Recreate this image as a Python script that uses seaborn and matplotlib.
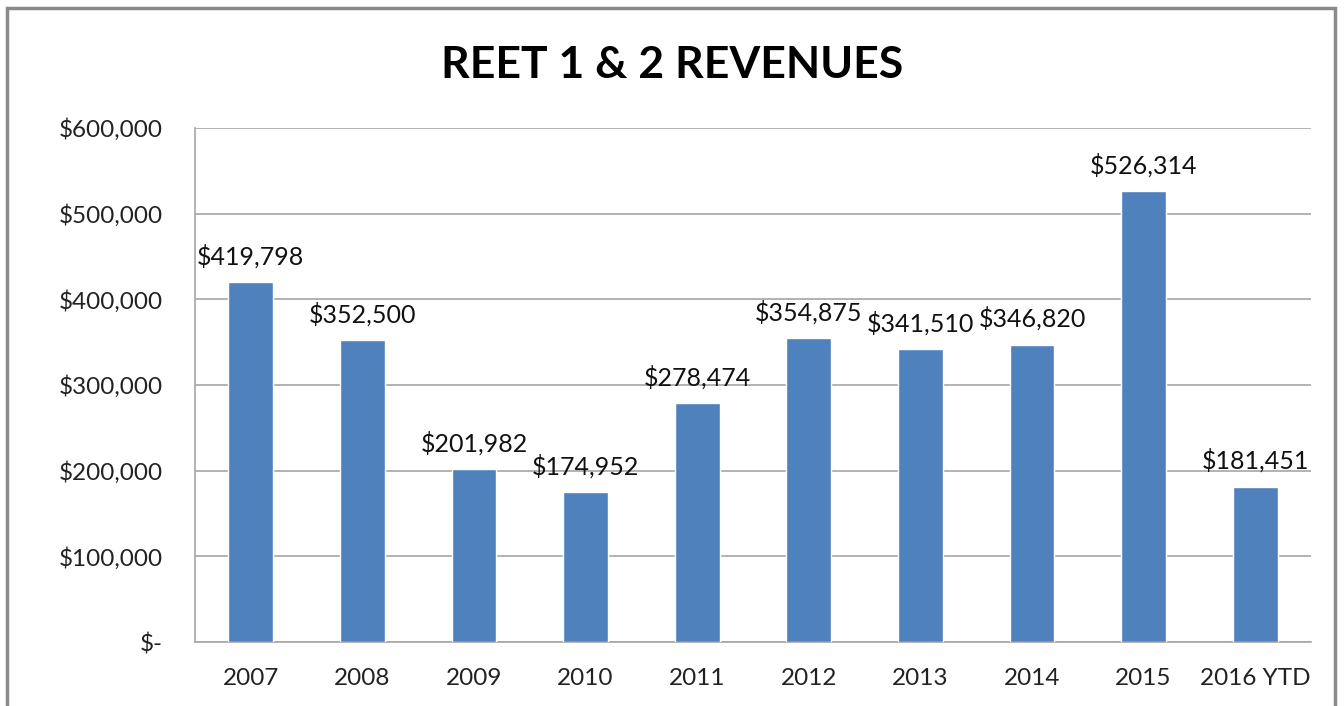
import matplotlib
matplotlib.use("Agg")
import matplotlib.pyplot as plt
import matplotlib.patches as mpatches
from matplotlib.ticker import FuncFormatter
import seaborn as sns
import pandas as pd

years = ["2007", "2008", "2009", "2010", "2011", "2012", "2013", "2014", "2015", "2016 YTD"]
revenues = [419798, 352500, 201982, 174952, 278474, 354875, 341510, 346820, 526314, 181451]
yticks = [0, 100000, 200000, 300000, 400000, 500000, 600000]

sns.set_theme(style="white")
plt.rcParams['font.family'] = ['Lato', 'DejaVu Sans']

df = pd.DataFrame({"year": years, "revenue": revenues})

fig = plt.figure(figsize=(13.44, 7.06), dpi=100)
ax = fig.add_axes([195/1344, 64/706, (1311-195)/1344, (642-128)/706])

sns.barplot(data=df, x="year", y="revenue", color="#4F81BD", width=0.4,
            saturation=1, ax=ax, zorder=3)

ax.set_ylim(0, 600000)
ax.set_yticks(yticks)
ax.yaxis.set_major_formatter(FuncFormatter(lambda v, p: "$-" if v == 0 else f"${v:,.0f}"))
ax.grid(axis="y", color="#A6A6A6", linewidth=1.2, zorder=0)
ax.set_axisbelow(True)
for s in ["top", "right"]:
    ax.spines[s].set_visible(False)
for s in ["left", "bottom"]:
    ax.spines[s].set_color("#A6A6A6")
    ax.spines[s].set_linewidth(1.2)
ax.set_xlabel("")
ax.set_ylabel("")
ax.tick_params(axis="both", labelsize=17.5, colors="#222222", length=0)
ax.tick_params(axis="y", pad=23)
ax.tick_params(axis="x", pad=19)
ax.set_xlim(-0.5, len(years) - 0.5)

for i, v in enumerate(revenues):
    ax.annotate(f"${v:,.0f}", (i, v), xytext=(0, 10), textcoords="offset points",
                ha="center", va="bottom", fontsize=18, color="#111111")

fig.text(0.5, 1 - 65/706, "REET 1 & 2 REVENUES", ha="center", va="center",
         fontsize=32, fontweight="bold", color="#000000")

border = mpatches.Rectangle((7/1344, -0.05), (1335-7)/1344, 1.05 - 8/706,
                            transform=fig.transFigure, fill=False,
                            edgecolor="#8A8A8A", linewidth=2.5)
fig.patches.append(border)

fig.savefig("out.png", dpi=100)
